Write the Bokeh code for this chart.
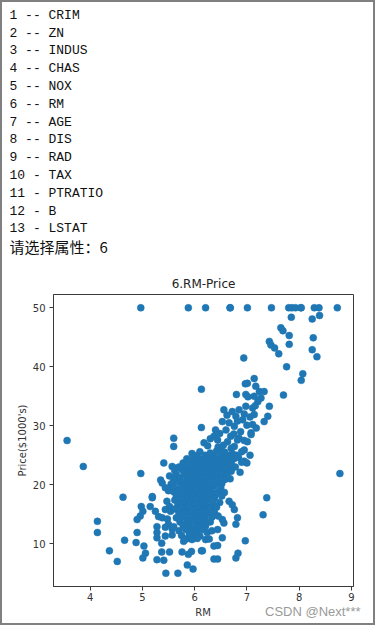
from bokeh.plotting import figure
from bokeh.models import FixedTicker, Range1d, Div
from bokeh.layouts import column
from bokeh.embed import file_html
from bokeh.resources import INLINE

# ---------------- data ----------------
menu_lines = ["1 -- CRIM", "2 -- ZN", "3 -- INDUS", "4 -- CHAS", "5 -- NOX",
              "6 -- RM", "7 -- AGE", "8 -- DIS", "9 -- RAD", "10 - TAX",
              "11 - PTRATIO", "12 - B", "13 - LSTAT"]
prompt_line = "请选择属性：6"
title_text = "6.RM-Price"
x_label = "RM"
y_label = "Price($1000's)"
watermark = "CSDN @Next***"
x_ticks = [4, 5, 6, 7, 8, 9]
y_ticks = [10, 20, 30, 40, 50]

rm_top = [4.97, 5.88, 6.21, 6.68, 6.68, 7.01, 7.47, 7.80, 7.86, 7.93, 8.03, 8.04, 8.29, 8.38, 8.73,
          7.85, 8.25, 8.39, 7.65, 7.69, 7.81, 7.81, 8.27, 7.43, 7.46, 7.53, 7.61, 8.25, 8.34, 6.94,
          7.76, 8.07, 8.04, 7.70, 6.13, 6.13]
price_top = [50, 50, 50, 50, 50, 50, 50, 50, 50, 50, 50, 50, 50, 50, 50,
             48.4, 48.1, 48.7, 46.6, 46.1, 45.3, 43.8, 44.9, 44.3, 43.7, 43.2, 42.2, 42.9, 41.7, 41.5,
             40.0, 38.8, 37.7, 35.2, 36.2, 29.7]

rm_upper = [7.14, 6.97, 7.01, 7.17, 7.24, 7.33, 6.80, 6.98, 7.14, 7.27, 7.21, 7.43, 6.98, 7.11,
            6.56, 6.72, 6.85, 7.14, 7.40, 6.79, 6.92, 7.33, 6.53, 6.66, 7.11, 6.76, 6.40, 6.60,
            6.88, 7.08, 6.37, 6.69, 6.85, 7.02, 7.16, 6.95, 7.06, 6.82, 7.00, 6.48, 6.75, 6.95,
            7.18, 6.62, 6.44, 6.63, 6.82, 7.01, 6.50, 6.76, 6.95, 7.08, 6.30, 6.18]
price_upper = [38.0, 37.1, 37.2, 36.7, 35.8, 35.8, 35.3, 35.3, 35.0, 34.7, 34.1, 33.3, 33.3, 33.0,
               32.7, 32.4, 32.7, 31.9, 31.6, 31.6, 31.0, 30.7, 30.7, 30.5, 30.2, 29.9, 29.3, 29.3,
               29.0, 28.8, 28.2, 28.2, 27.9, 34.9, 33.4, 32.0, 31.5, 30.8, 30.1, 28.7, 28.6, 27.5,
               29.6, 31.8, 27.6, 27.3, 27.6, 27.3, 26.2, 26.5, 25.9, 28.5, 27.8, 27.1]

rm_left = [3.56, 3.87, 4.97, 5.41, 5.57, 5.63, 4.63, 5.19, 5.15, 4.98, 5.01, 4.96, 4.90, 4.14,
           4.14, 4.90, 4.66, 4.88, 5.03, 5.28, 5.38, 5.28, 4.37, 4.52, 5.06, 5.01, 5.28, 5.41,
           5.37, 5.52, 5.45, 5.68, 5.86, 5.97, 5.76, 5.88, 5.94, 6.13, 5.84, 5.79, 5.28, 5.44,
           5.57, 5.37, 5.60, 5.60, 5.50, 5.47, 5.52, 5.48, 5.50, 5.55, 5.52, 5.35, 5.38, 5.44,
           5.54, 5.44, 5.54, 5.31, 5.44, 5.57, 5.25, 5.19]
price_left = [27.5, 23.1, 21.9, 23.7, 23.1, 22.8, 17.9, 17.8, 16.3, 16.3, 15.5, 14.7, 14.1, 13.8,
              11.9, 11.9, 10.6, 10.2, 9.6, 12.9, 14.4, 11.0, 8.8, 7.0, 8.4, 7.6, 7.3, 7.2,
              8.6, 8.6, 5.0, 5.0, 6.4, 5.7, 8.6, 8.2, 8.7, 8.8, 10.8, 10.4, 11.9, 11.3,
              11.5, 10.1, 27.9, 26.5, 19.0, 17.2, 16.3, 14.2, 13.3, 20.1, 21.5, 20.8, 20.3, 19.5,
              19.2, 15.8, 15.5, 14.6, 12.8, 12.5, 15.5, 18.0]

rm_right = [8.78, 7.38, 7.31, 6.97, 6.83, 6.79, 6.37, 6.44, 6.37, 6.44, 6.53, 6.15, 7.06, 7.00,
            6.95, 6.87, 6.68, 6.66, 6.72, 6.76, 6.82, 6.79, 6.21, 6.24, 6.21, 6.53, 6.56, 6.44,
            6.31, 6.47]
price_right = [21.9, 17.8, 14.9, 10.5, 8.4, 7.6, 7.4, 7.4, 9.6, 9.7, 11.0, 8.8, 25.0, 23.7,
               24.0, 22.1, 21.0, 17.2, 16.6, 15.8, 14.4, 13.3, 13.0, 11.9, 10.7, 14.1, 13.5, 12.4,
               16.1, 20.3]

rm_core = [6.25, 6.45, 6.55, 6.70,
           5.95, 6.10, 6.30, 6.42, 6.58, 6.72, 6.90,
           6.02, 6.20, 6.37, 6.50, 6.63, 6.80,
           5.85, 5.93, 6.08, 6.16, 6.27, 6.35, 6.46, 6.55, 6.64, 6.75, 6.84,
           5.78, 5.90, 6.00, 6.12, 6.22, 6.30, 6.40, 6.52, 6.60, 6.70, 6.90,
           5.70, 5.82, 5.95, 6.05, 6.14, 6.25, 6.33, 6.45, 6.55, 6.66, 6.78,
           5.62, 5.75, 5.87, 5.97, 6.07, 6.18, 6.28, 6.38, 6.48, 6.58, 6.70,
           5.65, 5.80, 5.92, 6.02, 6.10, 6.20, 6.30, 6.41, 6.52, 6.62,
           5.60, 5.72, 5.85, 5.95, 6.05, 6.15, 6.24, 6.35, 6.45, 6.58,
           5.58, 5.70, 5.82, 5.92, 6.00, 6.12, 6.20, 6.30, 6.42, 6.52,
           5.62, 5.75, 5.87, 5.97, 6.07, 6.16, 6.26, 6.37, 6.50,
           5.60, 5.70, 5.82, 5.93, 6.03, 6.12, 6.22, 6.32, 6.45, 6.57,
           5.65, 5.78, 5.88, 6.00, 6.10, 6.20, 6.30, 6.40, 6.52,
           5.62, 5.72, 5.85, 5.95, 6.05, 6.15, 6.25, 6.38,
           5.68, 5.80, 5.90, 6.00, 6.12, 6.22, 6.35, 6.48,
           5.62, 5.75, 5.86, 5.98, 6.08, 6.18, 6.28, 6.42,
           5.70, 5.82, 5.92, 6.03, 6.15, 6.25, 6.38,
           5.65, 5.77, 5.90, 6.00, 6.10, 6.20, 6.33, 6.45,
           5.72, 5.85, 5.97, 6.08, 6.18, 6.30,
           5.60, 5.78, 5.90, 6.02, 6.12,
           5.70, 5.83, 5.95, 6.05, 6.15, 6.33,
           5.75, 5.90, 6.00, 6.10,
           5.95, 6.05, 6.28]
price_core = [26.6, 26.4, 26.7, 26.2,
              25.3, 25.6, 25.4, 25.7, 25.5, 25.3, 25.6,
              24.9, 25.0, 24.8, 25.1, 24.9, 25.0,
              24.4, 24.2, 24.5, 24.3, 24.6, 24.4, 24.2, 24.5, 24.3, 24.4, 24.6,
              23.7, 23.9, 23.8, 23.6, 23.9, 23.7, 23.8, 23.6, 23.9, 23.7, 23.8,
              23.0, 23.2, 23.1, 22.9, 23.2, 23.0, 23.1, 23.3, 22.9, 23.1, 23.0,
              22.4, 22.6, 22.5, 22.3, 22.6, 22.4, 22.5, 22.7, 22.4, 22.6, 22.3,
              21.7, 21.9, 21.8, 21.6, 21.9, 21.7, 21.8, 22.0, 21.7, 21.6,
              21.0, 21.2, 21.1, 20.9, 21.2, 21.0, 21.1, 21.3, 21.0, 20.9,
              20.3, 20.5, 20.4, 20.2, 20.5, 20.3, 20.4, 20.6, 20.3, 20.2,
              19.5, 19.7, 19.6, 19.4, 19.7, 19.5, 19.6, 19.8, 19.5,
              18.8, 19.0, 18.9, 18.7, 19.0, 18.8, 18.9, 19.1, 18.8, 18.7,
              18.1, 18.3, 18.2, 18.0, 18.3, 18.1, 18.2, 18.4, 18.1,
              17.4, 17.6, 17.5, 17.3, 17.6, 17.4, 17.5, 17.7,
              16.7, 16.9, 16.8, 16.6, 16.9, 16.7, 16.8, 17.0,
              15.9, 16.1, 16.0, 15.8, 16.1, 15.9, 16.0, 16.2,
              15.2, 15.4, 15.3, 15.1, 15.4, 15.2, 15.3,
              14.4, 14.6, 14.5, 14.3, 14.6, 14.4, 14.5, 14.7,
              13.7, 13.9, 13.8, 13.6, 13.9, 13.7,
              12.9, 13.1, 13.0, 12.8, 13.1,
              12.2, 12.4, 12.3, 12.1, 12.4, 12.2,
              11.4, 11.6, 11.5, 11.3,
              10.7, 10.9, 10.8]

rm = rm_top + rm_upper + rm_left + rm_right + rm_core
price = price_top + price_upper + price_left + price_right + price_core

# ---------------- layout geometry (pixels) ----------------
W = 375
TOP_H, MID_H, BOT_H = 270, 336, 19
FRAME_L, FRAME_R, FRAME_T, FRAME_B = 53, 353, 294, 586
BORDER = "#808080"
XMIN, XMAX = 3.30, 9.04
YMIN, YMAX = 2.75, 52.25

shadow_top = f"inset 2px 0 0 {BORDER}, inset -2px 0 0 {BORDER}, inset 0 2px 0 {BORDER}"
shadow_mid = f"inset 2px 0 0 {BORDER}, inset -2px 0 0 {BORDER}"
shadow_bot = f"inset 2px 0 0 {BORDER}, inset -2px 0 0 {BORDER}, inset 0 -2px 0 {BORDER}"

# ---- top: console output ----
rows = []
for i, line in enumerate(menu_lines):
    yc = 15.7 + 17.8 * i
    rows.append(f'<div style="position:absolute;left:9.5px;top:{yc - 9:.1f}px;height:18px;'
                f'line-height:18px;white-space:pre;font-family:\'Liberation Mono\';'
                f'font-size:13px;color:#111111;">{line}</div>')
yc = 15.7 + 17.8 * len(menu_lines)
rows.append(f'<div style="position:absolute;left:9.5px;top:{yc - 10:.1f}px;height:20px;'
            f'line-height:20px;white-space:pre;font-family:\'Noto Sans CJK SC\';'
            f'font-size:15px;color:#111111;">{prompt_line}</div>')
top = Div(text=f'<div style="position:relative;width:{W}px;height:{TOP_H}px;">' + "".join(rows) + "</div>",
          width=W, height=TOP_H, margin=0, styles={"box-shadow": shadow_top})

# ---- middle: scatter plot ----
p = figure(width=W, height=MID_H, output_backend="svg", toolbar_location=None,
           x_range=Range1d(XMIN, XMAX), y_range=Range1d(YMIN, YMAX),
           min_border_left=FRAME_L, min_border_right=W - FRAME_R,
           min_border_top=FRAME_T - TOP_H, min_border_bottom=TOP_H + MID_H - FRAME_B,
           background_fill_color="white", border_fill_alpha=0,
           styles={"box-shadow": shadow_mid})

p.scatter(rm, price, size=7, fill_color="#1f77b4", line_color="#1f77b4", line_width=0.5)

p.grid.visible = False
p.outline_line_color = "#3a3a3a"
p.outline_line_width = 1
p.outline_line_alpha = 1

p.title.text = title_text
p.title.align = "center"
p.title.text_font = "DejaVu Sans"
p.title.text_font_size = "12px"
p.title.text_font_style = "normal"
p.title.text_color = "#222222"
p.title.standoff = 8

for ax, ticks in ((p.xaxis, x_ticks), (p.yaxis, y_ticks)):
    ax.ticker = FixedTicker(ticks=ticks)
    ax.major_label_text_font = "DejaVu Sans"
    ax.major_label_text_font_size = "10px"
    ax.major_label_text_color = "#333333"
    ax.axis_label_text_font = "DejaVu Sans"
    ax.axis_label_text_font_size = "10px"
    ax.axis_label_text_font_style = "normal"
    ax.axis_label_text_color = "#333333"
    ax.minor_tick_line_color = None
    ax.major_tick_in = 0
    ax.major_tick_out = 4
    ax.major_tick_line_color = "#3a3a3a"
    ax.axis_line_color = "#3a3a3a"

p.xaxis.major_label_standoff = 2
p.yaxis.major_label_standoff = 4
p.yaxis.axis_label = y_label
p.yaxis.axis_label_standoff = 2

# ---- bottom: x label + watermark ----
y0 = TOP_H + MID_H
bot_html = (f'<div style="position:relative;width:{W}px;height:{BOT_H}px;">'
            f'<div style="position:absolute;left:{(FRAME_L + FRAME_R) / 2 - 30}px;width:60px;'
            f'top:{613 - y0 - 7}px;height:14px;line-height:14px;text-align:center;'
            f'font-family:\'DejaVu Sans\';font-size:10px;color:#333333;">{x_label}</div>'
            f'<div style="position:absolute;left:265px;top:{612 - y0 - 8}px;height:16px;'
            f'line-height:16px;white-space:pre;font-family:\'Liberation Sans\';'
            f'font-size:13px;color:#9a9a9a;">{watermark}</div></div>')
bot = Div(text=bot_html, width=W, height=BOT_H, margin=0, styles={"box-shadow": shadow_bot})

layout = column(top, p, bot, spacing=0)
open("out.html", "w").write(file_html(layout, INLINE))
